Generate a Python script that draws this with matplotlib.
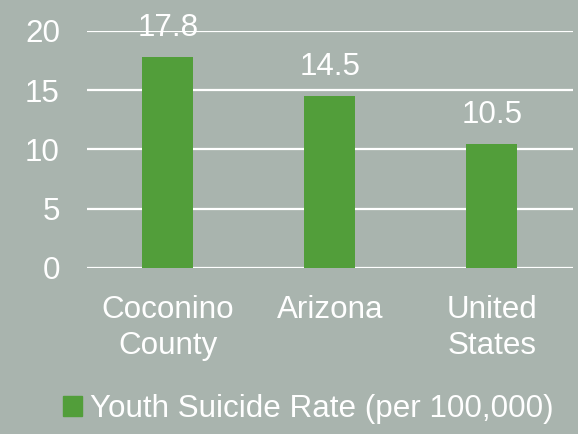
import matplotlib
matplotlib.use("Agg")
import matplotlib.pyplot as plt
from matplotlib.patches import Patch

categories = ["Coconino\nCounty", "Arizona", "United\nStates"]
rates = [17.8, 14.5, 10.5]
series_name = "Youth Suicide Rate (per 100,000)"
yticks = [0, 5, 10, 15, 20]

BG = "#a9b4ae"
BAR = "#529e3a"
FS = 22.6

plt.rcParams['font.family'] = ['Liberation Sans', 'DejaVu Sans']

fig = plt.figure(figsize=(5.78, 4.34), dpi=100, facecolor=BG)
ax = fig.add_axes([0.1505, 0.3825, 0.8405, 0.5461])
ax.set_facecolor(BG)

x = range(len(categories))
bars = ax.bar(x, rates, width=0.315, color=BAR, zorder=3)
for b, v in zip(bars, rates):
    ax.annotate("%.1f" % v, (b.get_x() + b.get_width() / 2, v),
                xytext=(0, 15), textcoords="offset points",
                ha="center", va="baseline", color="white", fontsize=FS, zorder=4)

ax.set_xlim(-0.5, len(categories) - 0.5)
ax.set_ylim(0, 20)
ax.set_yticks(yticks)
ax.set_xticks(list(x))
ax.set_xticklabels(categories, color="white", fontsize=FS, linespacing=1.27)
ax.tick_params(axis="y", colors="white", labelsize=FS, length=0, pad=19.5)
ax.tick_params(axis="x", colors="white", length=0, pad=19.5)
ax.grid(axis="y", color="white", linewidth=1.6, zorder=1)
for s in ax.spines.values():
    s.set_visible(False)

leg = fig.legend(handles=[Patch(color=BAR, label=series_name)],
                 loc="center", bbox_to_anchor=(0.534, 0.058), frameon=False,
                 fontsize=FS, handlelength=0.6, handleheight=0.62,
                 handletextpad=0.26, labelcolor="white",
                 borderpad=0, borderaxespad=0)

fig.savefig("out.png", dpi=100, facecolor=BG)
